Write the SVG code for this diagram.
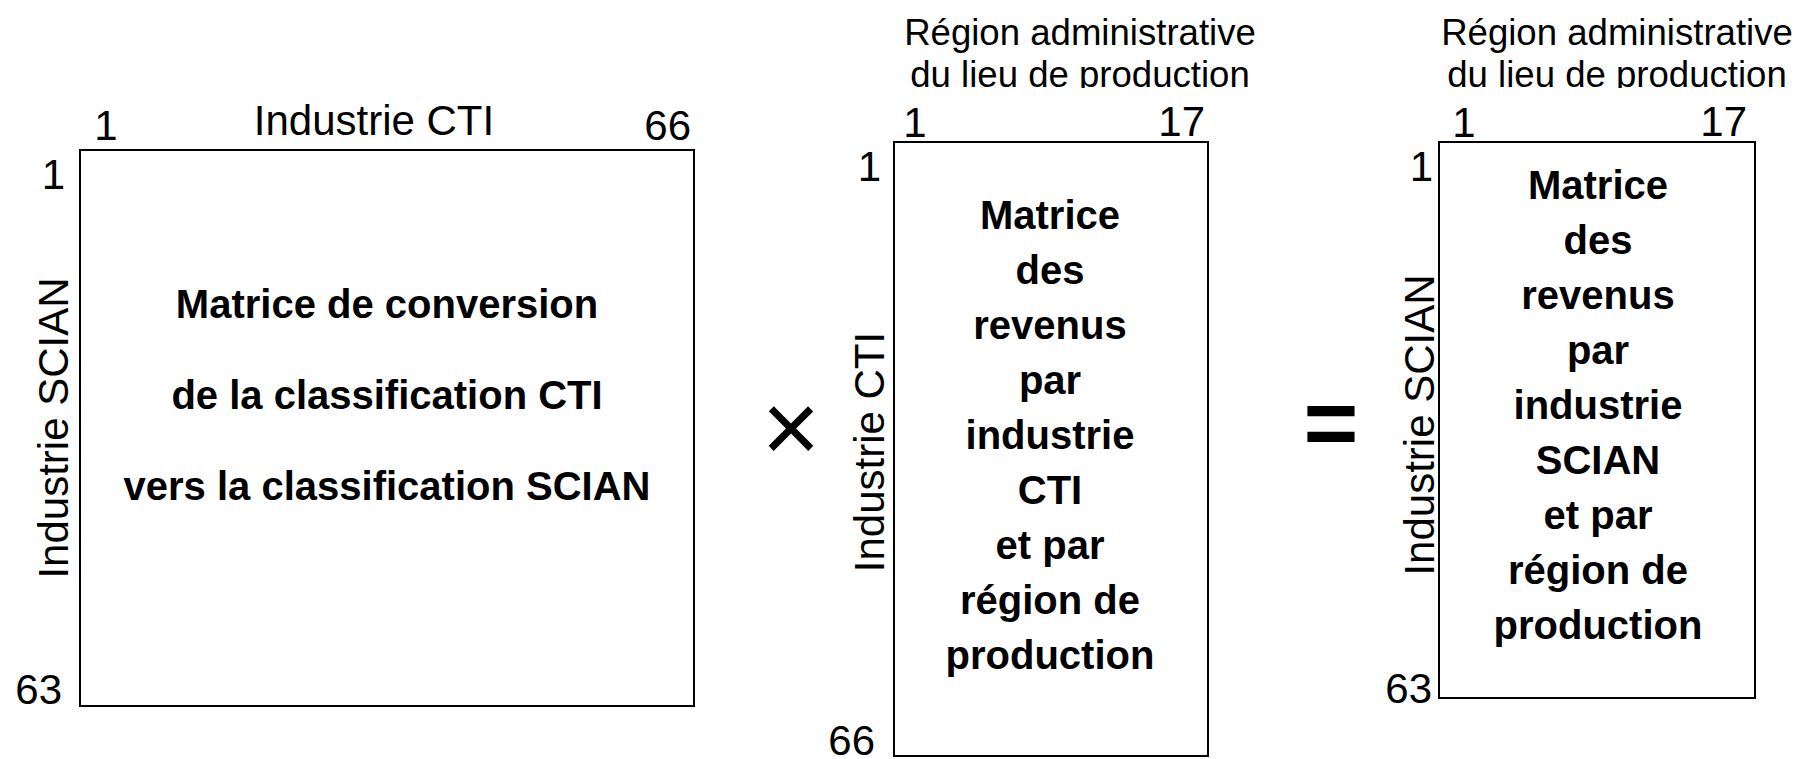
<svg xmlns="http://www.w3.org/2000/svg" width="1803" height="759" viewBox="0 0 1803 759">
<style>
.lbl{font-family:"Liberation Sans",Arial,sans-serif;font-size:42px;fill:#000}
.reg{font-family:"Liberation Sans",Arial,sans-serif;font-size:36.6px;fill:#000;text-anchor:middle}
.bt{font-family:"Liberation Sans",Arial,sans-serif;font-size:40px;font-weight:bold;fill:#000;text-anchor:middle}
.box{fill:#fff;stroke:#000;stroke-width:2}
.op{font-family:"Liberation Sans",Arial,sans-serif;fill:#000;text-anchor:middle}
</style>
<defs>
<clipPath id="clipTop"><rect x="0" y="0" width="1803" height="88"/></clipPath>
</defs>
<rect x="0" y="0" width="1803" height="759" fill="#fff"/>
<g id="conversion-matrix">
<rect class="box" x="80" y="150" width="614" height="556"/>
<text class="lbl" x="374" y="135" text-anchor="middle">Industrie CTI</text>
<text class="lbl" x="106" y="140" text-anchor="middle">1</text>
<text class="lbl" x="691" y="140" text-anchor="end">66</text>
<text class="lbl" x="65" y="189" text-anchor="end">1</text>
<text class="lbl" x="62" y="704" text-anchor="end">63</text>
<text class="lbl" x="68" y="428" text-anchor="middle" transform="rotate(-90 68 428)">Industrie SCIAN</text>
<text class="bt" x="387" y="318">Matrice de conversion</text>
<text class="bt" x="387" y="409">de la classification CTI</text>
<text class="bt" x="387" y="500">vers la classification SCIAN</text>
</g>
<g id="times-operator">
<text class="op" x="791" y="462" font-size="100">×</text>
</g>
<g id="revenue-cti-matrix">
<rect class="box" x="894" y="142" width="314" height="614"/>
<text class="reg" x="1080" y="45">Région administrative</text>
<text class="reg" x="1080" y="87" clip-path="url(#clipTop)">du lieu de production</text>
<text class="lbl" x="915" y="137" text-anchor="middle">1</text>
<text class="lbl" x="1205" y="136" text-anchor="end">17</text>
<text class="lbl" x="881" y="181" text-anchor="end">1</text>
<text class="lbl" x="875" y="755" text-anchor="end">66</text>
<text class="lbl" x="884" y="452" text-anchor="middle" transform="rotate(-90 884 452)">Industrie CTI</text>
<text class="bt" x="1050" y="229">Matrice</text>
<text class="bt" x="1050" y="284">des</text>
<text class="bt" x="1050" y="339">revenus</text>
<text class="bt" x="1050" y="394">par</text>
<text class="bt" x="1050" y="449">industrie</text>
<text class="bt" x="1050" y="504">CTI</text>
<text class="bt" x="1050" y="559">et par</text>
<text class="bt" x="1050" y="614">région de</text>
<text class="bt" x="1050" y="669">production</text>
</g>
<g id="equals-operator">
<text class="op" x="1331" y="455" font-size="94" font-weight="bold">=</text>
</g>
<g id="revenue-scian-matrix">
<rect class="box" x="1439" y="142" width="316" height="556"/>
<text class="reg" x="1617" y="45">Région administrative</text>
<text class="reg" x="1617" y="87" clip-path="url(#clipTop)">du lieu de production</text>
<text class="lbl" x="1464" y="137" text-anchor="middle">1</text>
<text class="lbl" x="1747" y="136" text-anchor="end">17</text>
<text class="lbl" x="1433" y="181" text-anchor="end">1</text>
<text class="lbl" x="1432" y="703" text-anchor="end">63</text>
<text class="lbl" x="1434" y="425" text-anchor="middle" transform="rotate(-90 1434 425)">Industrie SCIAN</text>
<text class="bt" x="1598" y="199">Matrice</text>
<text class="bt" x="1598" y="254">des</text>
<text class="bt" x="1598" y="309">revenus</text>
<text class="bt" x="1598" y="364">par</text>
<text class="bt" x="1598" y="419">industrie</text>
<text class="bt" x="1598" y="474">SCIAN</text>
<text class="bt" x="1598" y="529">et par</text>
<text class="bt" x="1598" y="584">région de</text>
<text class="bt" x="1598" y="639">production</text>
</g>
<g id="connectors"></g>
</svg>
